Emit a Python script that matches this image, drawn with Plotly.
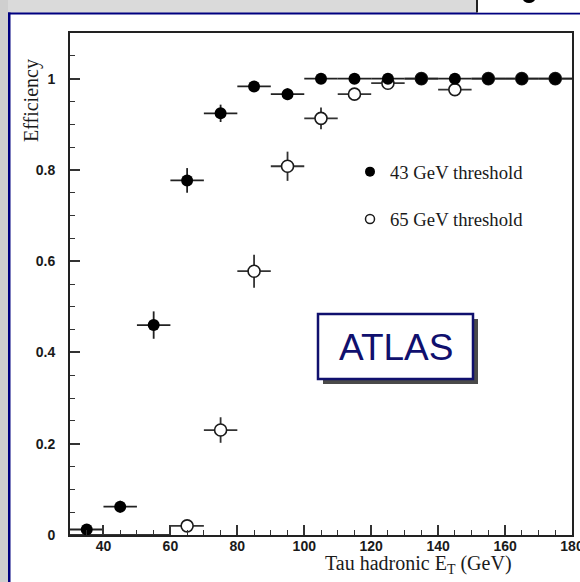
import plotly.graph_objects as go

# ---- data ----
et_bins = [35, 45, 55, 65, 75, 85, 95, 105, 115, 125, 135, 145, 155, 165, 175]
bin_half_width = [5] * 15
eff_43 = [0.012, 0.062, 0.46, 0.777, 0.924, 0.983, 0.966, 1.0, 1.0, 1.0, 1.0, 1.0, 1.0, 1.0, 1.0]
err_43 = [0.0, 0.013, 0.03, 0.027, 0.019, 0.008, 0.013, 0, 0, 0, 0, 0, 0, 0, 0]
eff_65 = [0.0, 0.0, 0.0, 0.02, 0.23, 0.578, 0.808, 0.913, 0.966, 0.99, 1.0, 0.976, 1.0, 1.0, 1.0]
err_65 = [0, 0, 0, 0.005, 0.028, 0.036, 0.032, 0.024, 0.012, 0.005, 0, 0.012, 0, 0, 0]
x_ticks = [40, 60, 80, 100, 120, 140, 160, 180]
y_ticks = [0, 0.2, 0.4, 0.6, 0.8, 1]
labels = ["43 GeV threshold", "65 GeV threshold"]

# ---- geometry (pixels) ----
W_FIG, H_FIG = 580, 582
L, R, T, B = 70, 572, 33, 535
PW, PH = R - L, B - T


def px(x):
    return (x - L) / PW


def py(y):
    return (B - y) / PH


SERIF = "Liberation Serif"
SANS = "Liberation Sans"
NAVY = "#10106e"
INK = "#1a1a1a"

fig = go.Figure()

# open series: error bars, then markers on top
fig.add_trace(go.Scatter(
    x=et_bins, y=eff_65, mode="markers", showlegend=False, hoverinfo="skip",
    marker=dict(size=1, color="rgba(0,0,0,0)"),
    error_x=dict(type="data", array=bin_half_width, color="#333", thickness=1.8, width=0),
    error_y=dict(type="data", array=err_65, color="#333", thickness=1.8, width=0),
))
open_pts = [(x, y) for x, y in zip(et_bins, eff_65) if y > 0]
fig.add_trace(go.Scatter(
    x=[p[0] for p in open_pts], y=[p[1] for p in open_pts], mode="markers", showlegend=False,
    marker=dict(symbol="circle", size=12, color="white", line=dict(color=INK, width=1.6)),
    cliponaxis=False,
))
# filled series
fig.add_trace(go.Scatter(
    x=et_bins, y=eff_43, mode="markers", showlegend=False, hoverinfo="skip",
    marker=dict(size=1, color="rgba(0,0,0,0)"),
    error_x=dict(type="data", array=bin_half_width, color="#222", thickness=1.8, width=0),
    error_y=dict(type="data", array=err_43, color="#222", thickness=1.8, width=0),
))
fig.add_trace(go.Scatter(
    x=et_bins, y=eff_43, mode="markers", showlegend=False,
    marker=dict(symbol="circle", size=12, color="black", line=dict(width=0)),
    cliponaxis=False,
))
# legend entries
fig.add_trace(go.Scatter(
    x=[None], y=[None], mode="markers", name=labels[0], legendgroup="a",
    marker=dict(symbol="circle", size=10, color="black"),
))
fig.add_trace(go.Scatter(
    x=[None], y=[None], mode="markers", name=labels[1], legendgroup="b",
    marker=dict(symbol="circle", size=9, color="white", line=dict(color=INK, width=1.5)),
))

shapes = [
    # gray page background
    dict(type="rect", xref="paper", yref="paper", x0=px(0), x1=px(580), y0=py(0), y1=py(13),
         fillcolor="#dadada", line=dict(width=0), layer="below"),
    dict(type="rect", xref="paper", yref="paper", x0=px(0), x1=px(8), y0=py(0), y1=py(582),
         fillcolor="#cfcfcf", line=dict(width=0), layer="below"),
    # navy frame lines
    dict(type="rect", xref="paper", yref="paper", x0=px(8), x1=px(580), y0=py(12.5), y1=py(14.5),
         fillcolor="#000080", line=dict(width=0), layer="below"),
    dict(type="rect", xref="paper", yref="paper", x0=px(8), x1=px(10.5), y0=py(12.5), y1=py(582),
         fillcolor="#000080", line=dict(width=0), layer="below"),
    # white tab top-right
    dict(type="rect", xref="paper", yref="paper", x0=px(477), x1=px(580), y0=py(0), y1=py(12.5),
         fillcolor="white", line=dict(width=0), layer="below"),
    dict(type="rect", xref="paper", yref="paper", x0=px(476), x1=px(478), y0=py(0), y1=py(12.5),
         fillcolor="#222", line=dict(width=0), layer="below"),
    dict(type="circle", xref="paper", yref="paper", x0=px(523), x1=px(535), y0=py(-5), y1=py(3),
         fillcolor="black", line=dict(width=0), layer="below"),
    # ATLAS box with shadow
    dict(type="rect", xref="paper", yref="paper", x0=px(323), x1=px(478), y0=py(319), y1=py(384),
         fillcolor="#4a4a4a", line=dict(width=0), layer="above"),
    dict(type="rect", xref="paper", yref="paper", x0=px(318), x1=px(473), y0=py(314), y1=py(379),
         fillcolor="white", line=dict(color=NAVY, width=2.5), layer="above"),
]

annotations = [
    dict(text="ATLAS", xref="paper", yref="paper", x=px(395.5), y=py(347),
         xanchor="center", yanchor="middle", showarrow=False,
         font=dict(family=SANS, size=37, color=NAVY)),
    dict(text="Tau hadronic E<sub>T</sub> (GeV)", xref="paper", yref="paper",
         x=px(514), y=py(564), xanchor="right", yanchor="middle", showarrow=False,
         font=dict(family=SERIF, size=20, color=INK)),
    dict(text="Efficiency", xref="paper", yref="paper", textangle=-90,
         x=px(31.5), y=py(100.5), xanchor="center", yanchor="middle", showarrow=False,
         font=dict(family=SERIF, size=20, color=INK)),
]

axis_common = dict(
    showline=True, linecolor="#222", linewidth=2, mirror=True,
    ticks="inside", ticklen=10, tickwidth=1.5, tickcolor="#333",
    showgrid=False, zeroline=False, automargin=False,
    tickfont=dict(family=SANS, size=14, color=INK, weight="bold"),
)

fig.update_layout(
    width=W_FIG, height=H_FIG,
    margin=dict(l=L, r=W_FIG - R, t=T, b=H_FIG - B, pad=0, autoexpand=False),
    paper_bgcolor="white", plot_bgcolor="white",
    xaxis=dict(range=[30, 180], tickvals=x_ticks, ticklabelstandoff=-3,
               ticklabeloverflow="allow",
               minor=dict(ticks="inside", ticklen=5, dtick=5, tickcolor="#333", tickwidth=1.2),
               **axis_common),
    yaxis=dict(range=[0, 1.1], tickvals=y_ticks, ticklabelstandoff=10,
               minor=dict(ticks="inside", ticklen=5, dtick=0.05, tickcolor="#333", tickwidth=1.2),
               **axis_common),
    showlegend=True,
    legend=dict(x=px(350), y=py(153), xanchor="left", yanchor="top",
                bgcolor="rgba(0,0,0,0)", borderwidth=0, tracegroupgap=20,
                font=dict(family=SERIF, size=18.7, color=INK)),
    shapes=shapes, annotations=annotations,
)

fig.write_html("out.html")
